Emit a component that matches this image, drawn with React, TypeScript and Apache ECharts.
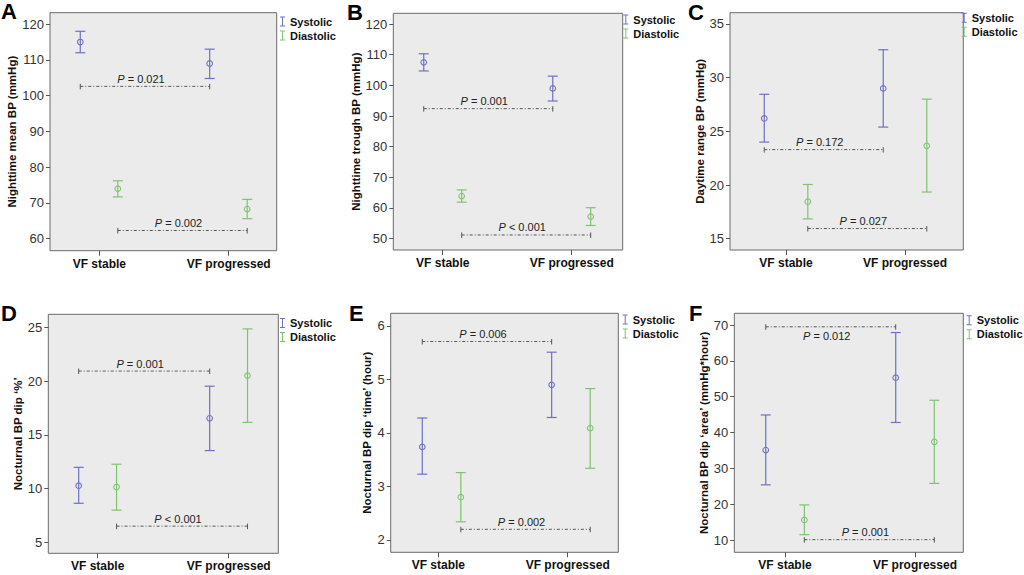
import React, { useEffect, useRef } from "react";
import * as echarts from "echarts";

// ---------- data ----------
const categories = ["VF stable", "VF progressed"];
const seriesNames = ["Systolic", "Diastolic"];
const panelLetters = ["A", "B", "C", "D", "E", "F"];
const yAxisNames = [
  "Nighttime mean BP (mmHg)",
  "Nighttime trough BP (mmHg)",
  "Daytime range BP (mmHg)",
  "Nocturnal BP dip \u2018%\u2019",
  "Nocturnal BP dip \u2018time\u2019 (hour)",
  "Nocturnal BP dip \u2018area\u2019 (mmHg*hour)",
];
const yTicks = [
  [60, 70, 80, 90, 100, 110, 120],
  [50, 60, 70, 80, 90, 100, 110, 120],
  [15, 20, 25, 30, 35],
  [5, 10, 15, 20, 25],
  [2, 3, 4, 5, 6],
  [10, 20, 30, 40, 50, 60, 70],
];

// mean / lower CI / upper CI, [VF stable, VF progressed]
const aSysMean = [115.0, 109.0];
const aSysLow = [112.0, 104.8];
const aSysHigh = [118.0, 113.0];
const aDiaMean = [74.0, 68.3];
const aDiaLow = [71.7, 65.6];
const aDiaHigh = [76.2, 71.0];

const bSysMean = [107.5, 99.0];
const bSysLow = [104.7, 94.9];
const bSysHigh = [110.3, 103.0];
const bDiaMean = [63.9, 57.2];
const bDiaLow = [61.9, 54.3];
const bDiaHigh = [65.9, 60.1];

const cSysMean = [26.2, 29.0];
const cSysLow = [24.0, 25.4];
const cSysHigh = [28.45, 32.6];
const cDiaMean = [18.45, 23.65];
const cDiaLow = [16.85, 19.35];
const cDiaHigh = [20.05, 28.0];

const dSysMean = [10.27, 16.55];
const dSysLow = [8.63, 13.54];
const dSysHigh = [11.98, 19.54];
const dDiaMean = [10.15, 20.53];
const dDiaLow = [7.99, 16.17];
const dDiaHigh = [12.27, 24.88];

const eSysMean = [3.74, 4.9];
const eSysLow = [3.23, 4.29];
const eSysHigh = [4.28, 5.51];
const eDiaMean = [2.8, 4.09];
const eDiaLow = [2.34, 3.34];
const eDiaHigh = [3.26, 4.83];

const fSysMean = [35.1, 55.3];
const fSysLow = [25.4, 42.8];
const fSysHigh = [44.9, 67.9];
const fDiaMean = [15.6, 37.4];
const fDiaLow = [11.5, 25.8];
const fDiaHigh = [19.8, 49.0];

// P-values: [systolic comparison, diastolic comparison]
const pOps = [
  ["=", "="],
  ["=", "<"],
  ["=", "="],
  ["=", "<"],
  ["=", "="],
  ["=", "="],
];
const pValues = [
  ["0.021", "0.002"],
  ["0.001", "0.001"],
  ["0.172", "0.027"],
  ["0.001", "0.001"],
  ["0.006", "0.002"],
  ["0.012", "0.001"],
];
const pLevels = [
  [102.6, 62.3],
  [92.4, 51.2],
  [23.3, 15.95],
  [20.95, 6.5],
  [5.71, 2.2],
  [69.5, 10.1],
];

const panelData = [
  [[aSysMean, aSysLow, aSysHigh], [aDiaMean, aDiaLow, aDiaHigh]],
  [[bSysMean, bSysLow, bSysHigh], [bDiaMean, bDiaLow, bDiaHigh]],
  [[cSysMean, cSysLow, cSysHigh], [cDiaMean, cDiaLow, cDiaHigh]],
  [[dSysMean, dSysLow, dSysHigh], [dDiaMean, dDiaLow, dDiaHigh]],
  [[eSysMean, eSysLow, eSysHigh], [eDiaMean, eDiaLow, eDiaHigh]],
  [[fSysMean, fSysLow, fSysHigh], [fDiaMean, fDiaLow, fDiaHigh]],
];

// ---------- layout / style ----------
const FONT = "Liberation Sans, Arial, Helvetica, sans-serif";
const COLORS = ["#6c70c6", "#7ec46f"];
const layout = [
  { left: 50, top: 12.7, width: 226.7, height: 238, yMin: 56.65, yMax: 123.2, xMin: -0.381, xMax: 1.371, off: [-0.147, 0.143], nameGap: 27, legend: [280, 16], letter: [1, 0], below: [false, false] },
  { left: 393.3, top: 13.3, width: 229.4, height: 236.7, yMin: 46.3, yMax: 123.5, xMin: -0.383, xMax: 1.395, off: [-0.147, 0.147], nameGap: 25, legend: [623.3, 14], letter: [347, 1], below: [false, false] },
  { left: 730, top: 12.7, width: 233.3, height: 237.3, yMin: 13.95, yMax: 36.05, xMin: -0.471, xMax: 1.49, off: [-0.183, 0.183], nameGap: 23.5, legend: [961.7, 12.3], letter: [688, 1], below: [false, false] },
  { left: 48.3, top: 314.3, width: 230, height: 239, yMin: 3.97, yMax: 26.24, xMin: -0.377, xMax: 1.379, off: [-0.145, 0.144], nameGap: 24.5, legend: [280, 317.5], letter: [1, 302], below: [false, false] },
  { left: 390.7, top: 313.3, width: 227.6, height: 239, yMin: 1.77, yMax: 6.237, xMin: -0.368, xMax: 1.391, off: [-0.124, 0.174], nameGap: 17.5, legend: [622.7, 314], letter: [349, 302], below: [false, false] },
  { left: 734.3, top: 313.3, width: 229, height: 239, yMin: 6.57, yMax: 73.27, xMin: -0.39, xMax: 1.372, off: [-0.148, 0.149], nameGap: 21, legend: [966.7, 314.7], letter: [689, 302], below: [true, false] },
];

function errorBarRender(params: any, api: any) {
  const x = api.value(0);
  const m = api.value(1);
  const lo = api.value(2);
  const hi = api.value(3);
  const c = api.coord([x, m]);
  const l = api.coord([x, lo]);
  const h = api.coord([x, hi]);
  const color = api.visual("color");
  const ls = { stroke: color, lineWidth: 1.2 };
  return {
    type: "group",
    children: [
      { type: "line", shape: { x1: c[0], y1: h[1], x2: c[0], y2: l[1] }, style: ls },
      { type: "line", shape: { x1: c[0] - 5, y1: h[1], x2: c[0] + 5, y2: h[1] }, style: ls },
      { type: "line", shape: { x1: c[0] - 5, y1: l[1], x2: c[0] + 5, y2: l[1] }, style: ls },
      { type: "circle", shape: { cx: c[0], cy: c[1], r: 2.8 }, style: { fill: "none", stroke: color, lineWidth: 1.1 } },
    ],
  };
}

function makeBracketRender(pi: number) {
  return (params: any, api: any) => {
    const i = params.dataIndex;
    const x1 = api.value(0);
    const x2 = api.value(1);
    const y = api.value(2);
    const p1 = api.coord([x1, y]);
    const p2 = api.coord([x2, y]);
    const below = layout[pi].below[i];
    const stroke = "#555";
    const dash = { stroke, lineWidth: 1, lineDash: [3, 2, 1, 2] };
    const tick = { stroke, lineWidth: 1 };
    return {
      type: "group",
      children: [
        { type: "line", shape: { x1: p1[0], y1: p1[1], x2: p2[0], y2: p2[1] }, style: dash },
        { type: "line", shape: { x1: p1[0], y1: p1[1] - 2.5, x2: p1[0], y2: p1[1] + 3 }, style: tick },
        { type: "line", shape: { x1: p2[0], y1: p2[1] - 2.5, x2: p2[0], y2: p2[1] + 3 }, style: tick },
        {
          type: "text",
          x: (p1[0] + p2[0]) / 2 - 4,
          y: p1[1] + (below ? 9 : -7.5),
          style: {
            text: "{i|P} " + pOps[pi][i] + " " + pValues[pi][i],
            fontFamily: FONT,
            fontSize: 11,
            fill: "#222",
            align: "center",
            verticalAlign: "middle",
            rich: { i: { fontStyle: "italic", fontFamily: FONT, fontSize: 11, fill: "#222" } },
          },
        },
      ],
    };
  };
}

function buildOption() {
  const grid: any[] = [];
  const xAxis: any[] = [];
  const yAxis: any[] = [];
  const series: any[] = [];
  const legend: any[] = [];
  const graphic: any[] = [];

  layout.forEach((L, pi) => {
    grid.push({
      left: L.left,
      top: L.top,
      width: L.width,
      height: L.height,
      show: true,
      backgroundColor: "#ebebeb",
      borderColor: "#6a6a6a",
      borderWidth: 1,
    });
    xAxis.push({
      type: "value",
      gridIndex: pi,
      position: "bottom",
      min: L.xMin,
      max: L.xMax,
      splitLine: { show: false },
      axisLine: { show: false, onZero: false },
      axisTick: { show: true, customValues: [0, 1], length: 5, lineStyle: { color: "#555" } },
      axisLabel: {
        customValues: [0, 1],
        formatter: (v: number) => categories[Math.round(v)] ?? "",
        fontFamily: FONT,
        fontWeight: "bold",
        fontSize: 12,
        color: "#111",
        margin: 7,
      },
    });
    yAxis.push({
      type: "value",
      gridIndex: pi,
      position: "left",
      min: L.yMin,
      max: L.yMax,
      splitLine: { show: false },
      axisLine: { show: false, onZero: false },
      axisTick: { show: true, customValues: yTicks[pi], length: 4, lineStyle: { color: "#555" } },
      axisLabel: {
        customValues: yTicks[pi],
        fontFamily: FONT,
        fontSize: 13,
        color: "#333",
        margin: 6,
      },
      name: yAxisNames[pi],
      nameLocation: "middle",
      nameGap: L.nameGap,
      nameTextStyle: { fontFamily: FONT, fontWeight: "bold", fontSize: 11.5, color: "#111" },
    });

    panelData[pi].forEach((grp, gi) => {
      const [mean, low, high] = grp;
      series.push({
        type: "custom",
        name: seriesNames[gi],
        xAxisIndex: pi,
        yAxisIndex: pi,
        itemStyle: { color: COLORS[gi] },
        renderItem: errorBarRender,
        data: mean.map((m, ci) => [ci + L.off[gi], m, low[ci], high[ci]]),
        z: 3,
      });
    });

    series.push({
      type: "custom",
      name: "p-values",
      xAxisIndex: pi,
      yAxisIndex: pi,
      renderItem: makeBracketRender(pi),
      data: pLevels[pi].map((lv, gi) => [0 + L.off[gi], 1 + L.off[gi], lv]),
      z: 2,
    });

    legend.push({
      data: seriesNames,
      left: L.legend[0],
      top: L.legend[1],
      orient: "vertical",
      itemWidth: 5,
      itemHeight: 10,
      itemGap: 3,
      selectedMode: false,
      icon: "path://M0,0H5V1H3V9H5V10H0V9H2V1H0Z",
      textStyle: { fontFamily: FONT, fontWeight: "bold", fontSize: 11, color: "#111" },
      padding: 0,
    });

    graphic.push({
      type: "text",
      left: L.letter[0],
      top: L.letter[1],
      style: { text: panelLetters[pi], fontFamily: FONT, fontWeight: "bold", fontSize: 22, fill: "#000" },
    });
  });

  return {
    animation: false,
    backgroundColor: "#ffffff",
    grid,
    xAxis,
    yAxis,
    series,
    legend,
    graphic,
  };
}

export default function App() {
  const ref = useRef<HTMLDivElement>(null);
  useEffect(() => {
    if (!ref.current) return;
    const chart = echarts.init(ref.current, undefined, { renderer: "svg" });
    chart.setOption(buildOption() as any);
    return () => chart.dispose();
  }, []);
  return (
    <div
      ref={ref}
      style={{ position: "fixed", left: 0, top: 0, width: 1024, height: 575, background: "#fff" }}
    />
  );
}
